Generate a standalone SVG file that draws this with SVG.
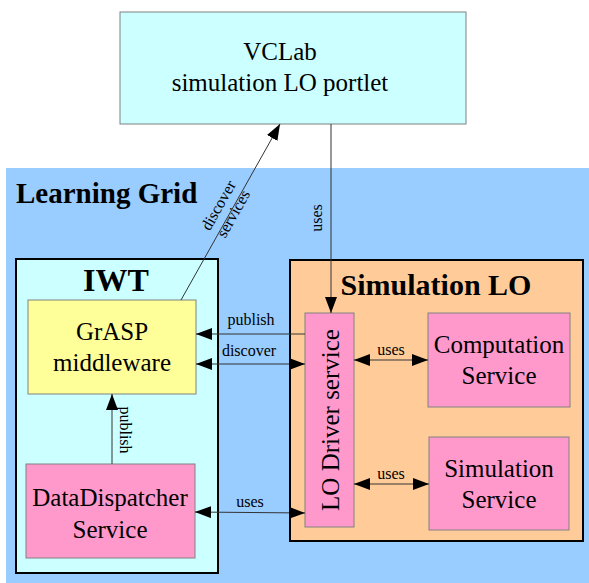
<svg xmlns="http://www.w3.org/2000/svg" width="589" height="583" viewBox="0 0 589 583">
<style>
text{font-family:"Liberation Serif","Times New Roman",serif;fill:#000}
.big{font-size:25px;text-anchor:middle}
.title{font-size:30px;font-weight:bold;text-anchor:middle}
.lbl{font-size:16px;text-anchor:middle}
.box{stroke:#808080;stroke-width:1}
.cont{stroke:#000;stroke-width:2}
.ln{stroke:#333;stroke-width:1;fill:none}
</style>
<defs>
<marker id="ah" viewBox="0 0 16 12" refX="16" refY="6" markerWidth="16" markerHeight="12" markerUnits="userSpaceOnUse" orient="auto-start-reverse">
<path d="M0,0 L16,6 L0,12 Z" fill="#000"/>
</marker>
</defs>
<g id="vclab">
<rect class="box" x="120" y="12" width="346" height="112" fill="#ccffff"/>
<text class="big" x="280" y="60">VCLab</text>
<text class="big" x="280" y="91">simulation LO portlet</text>
</g>
<g id="learning-grid">
<rect x="6" y="168" width="583" height="415" fill="#99ccff"/>
<text x="16" y="203" style="font-size:29px;font-weight:bold">Learning Grid</text>
</g>
<g id="iwt">
<rect class="cont" x="16" y="259" width="202" height="314" fill="#ccffff"/>
<text class="title" x="116" y="291" style="font-size:32px">IWT</text>
</g>
<g id="grasp">
<rect class="box" x="28" y="300" width="168" height="94" fill="#ffff99"/>
<text class="big" x="112" y="340">GrASP</text>
<text class="big" x="112" y="371">middleware</text>
</g>
<g id="datadispatcher">
<rect class="box" x="26" y="464" width="169" height="94" fill="#ff99cc"/>
<text class="big" x="110" y="506">DataDispatcher</text>
<text class="big" x="110" y="538">Service</text>
</g>
<g id="simulation-lo">
<rect class="cont" x="290" y="260" width="293" height="281" fill="#ffcc99"/>
<text class="title" x="436" y="295">Simulation LO</text>
</g>
<g id="lo-driver">
<rect class="box" x="305" y="313" width="49" height="214" fill="#ff99cc"/>
<text class="big" transform="translate(339,420) rotate(-90)" x="0" y="0">LO Driver service</text>
</g>
<g id="computation">
<rect class="box" x="428" y="313" width="142" height="94" fill="#ff99cc"/>
<text class="big" x="499" y="353">Computation</text>
<text class="big" x="499" y="384">Service</text>
</g>
<g id="simulation-service">
<rect class="box" x="429" y="437" width="140" height="93" fill="#ff99cc"/>
<text class="big" x="499" y="477">Simulation</text>
<text class="big" x="499" y="508">Service</text>
</g>
<g id="connectors">
<line class="ln" x1="181" y1="300" x2="280" y2="124" marker-end="url(#ah)"/>
<text class="lbl" transform="translate(223,208) rotate(-60.6)"><tspan x="0" y="0">discover</tspan><tspan x="0" y="17">services</tspan></text>
<line class="ln" x1="331" y1="124" x2="331" y2="313" marker-end="url(#ah)"/>
<text class="lbl" transform="translate(322,218) rotate(-90)" x="0" y="0">uses</text>
<line class="ln" x1="305" y1="334" x2="196" y2="334" marker-end="url(#ah)"/>
<text class="lbl" x="251" y="325">publish</text>
<line class="ln" x1="196" y1="364" x2="305" y2="364" marker-start="url(#ah)" marker-end="url(#ah)"/>
<text class="lbl" x="249" y="356">discover</text>
<line class="ln" x1="112" y1="464" x2="112" y2="394" marker-end="url(#ah)"/>
<text class="lbl" transform="translate(120,430) rotate(90)" x="0" y="0">publish</text>
<line class="ln" x1="195" y1="512" x2="305" y2="513" marker-start="url(#ah)" marker-end="url(#ah)"/>
<text class="lbl" x="250" y="507">uses</text>
<line class="ln" x1="354" y1="360" x2="428" y2="360" marker-start="url(#ah)" marker-end="url(#ah)"/>
<text class="lbl" x="391" y="355">uses</text>
<line class="ln" x1="354" y1="484" x2="429" y2="484" marker-start="url(#ah)" marker-end="url(#ah)"/>
<text class="lbl" x="391" y="479">uses</text>
</g>
</svg>
